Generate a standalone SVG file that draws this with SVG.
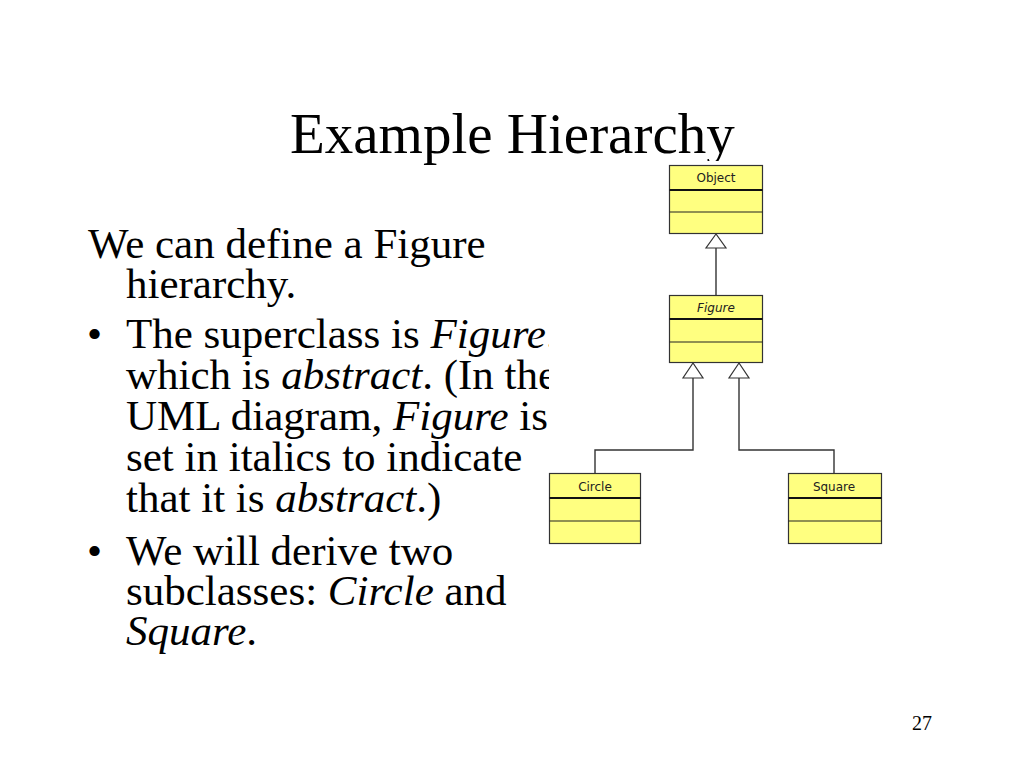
<svg xmlns="http://www.w3.org/2000/svg" width="1024" height="768" viewBox="0 0 1024 768">
<style>
.title{font-family:"Liberation Serif","Times New Roman",serif;font-size:57px;fill:#000}
.body{font-family:"Liberation Serif","Times New Roman",serif;font-size:43px;fill:#000}
.pg{font-family:"Liberation Serif","Times New Roman",serif;font-size:20px;fill:#000}
.box{fill:#ffff80;stroke:#333;stroke-width:1.2}
.sep{stroke:#222;stroke-width:1.2}
.hsep{stroke:#111;stroke-width:2.2}
.lbl{font-family:"DejaVu Sans",sans-serif;font-size:12px;fill:#222;text-anchor:middle}
.conn{fill:none;stroke:#333;stroke-width:1.4}
.tri{fill:#fff;stroke:#333;stroke-width:1.2}
</style>
<rect width="1024" height="768" fill="#fff"/>
<text class="title" x="290" y="153">Example Hierarchy</text>
<g class="body">
<text x="88" y="258">We can define a Figure</text>
<text x="126" y="298">hierarchy.</text>
<text x="87" y="348">•</text>
<text x="126" y="348">The superclass is <tspan font-style="italic">Figure</tspan>.</text>
<text x="126" y="389">which is <tspan font-style="italic">abstract</tspan>. (In the</text>
<text x="126" y="430">UML diagram, <tspan font-style="italic">Figure</tspan> is</text>
<text x="126" y="471">set in italics to indicate</text>
<text x="126" y="512">that it is <tspan font-style="italic">abstract</tspan>.)</text>
<text x="87" y="565">•</text>
<text x="126" y="565">We will derive two</text>
<text x="126" y="605">subclasses: <tspan font-style="italic">Circle</tspan> and</text>
<text x="126" y="645"><tspan font-style="italic">Square</tspan>.</text>
</g>
<text class="pg" x="912" y="730">27</text>
<rect x="549" y="161" width="340" height="390" fill="#fff"/>
<g id="connectors">
<line class="conn" x1="716" y1="248" x2="716" y2="295"/>
<polygon class="tri" points="716,234 706,248 726,248"/>
<polyline class="conn" points="693,378 693,450 595,450 595,473"/>
<polygon class="tri" points="693,363 683,378 703,378"/>
<polyline class="conn" points="739,378 739,450 834,450 834,473"/>
<polygon class="tri" points="739,363 729,378 749,378"/>
</g>
<g id="object">
<rect class="box" x="669.5" y="165.5" width="93" height="68"/>
<line class="hsep" x1="669.5" y1="190" x2="762.5" y2="190"/>
<line class="sep" x1="669.5" y1="212" x2="762.5" y2="212"/>
<text class="lbl" x="716" y="182">Object</text>
</g>
<g id="figure">
<rect class="box" x="669.5" y="295.5" width="93" height="67"/>
<line class="hsep" x1="669.5" y1="319" x2="762.5" y2="319"/>
<line class="sep" x1="669.5" y1="342" x2="762.5" y2="342"/>
<text class="lbl" x="716" y="312" font-style="italic">Figure</text>
</g>
<g id="circle">
<rect class="box" x="549.5" y="473.5" width="91" height="70"/>
<line class="hsep" x1="549.5" y1="498" x2="640.5" y2="498"/>
<line class="sep" x1="549.5" y1="521" x2="640.5" y2="521"/>
<text class="lbl" x="595" y="491">Circle</text>
</g>
<g id="square">
<rect class="box" x="788.5" y="473.5" width="93" height="70"/>
<line class="hsep" x1="788.5" y1="498" x2="881.5" y2="498"/>
<line class="sep" x1="788.5" y1="521" x2="881.5" y2="521"/>
<text class="lbl" x="834" y="491">Square</text>
</g>
</svg>
